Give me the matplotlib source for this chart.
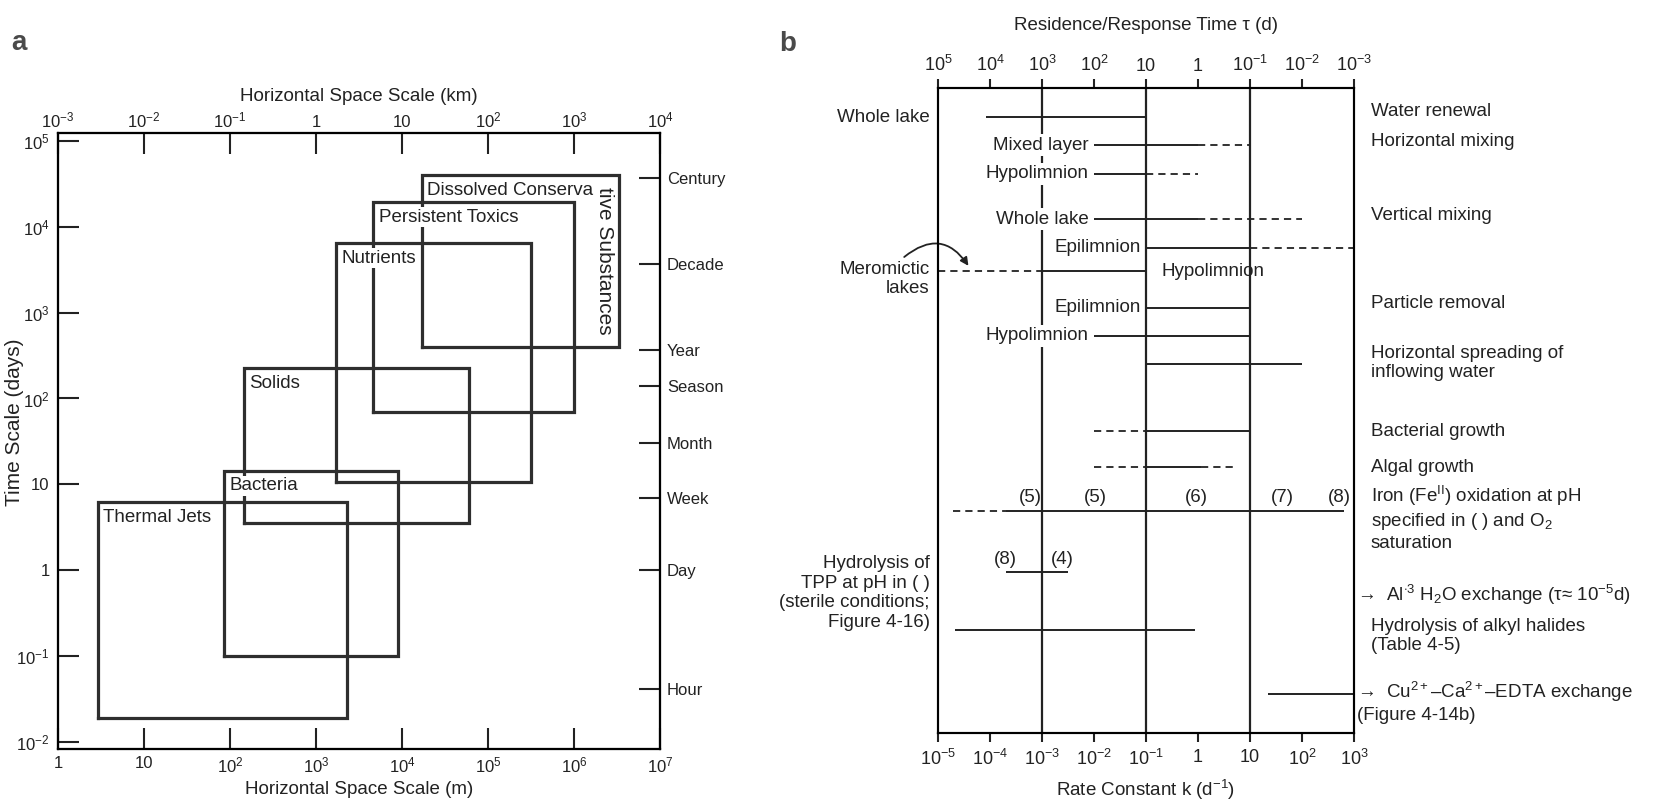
import matplotlib
matplotlib.use("Agg")
import matplotlib.pyplot as plt
import matplotlib.transforms as mtransforms
from matplotlib.ticker import FixedLocator, FixedFormatter, NullLocator

plt.rcParams.update({
    "font.family": "Liberation Sans",
    "mathtext.fontset": "custom",
    "mathtext.rm": "Liberation Sans",
    "mathtext.it": "Liberation Sans:italic",
    "mathtext.bf": "Liberation Sans:bold",
    "axes.linewidth": 1.5,
    "figure.facecolor": "white",
    "axes.facecolor": "white",
})

INK = "#222222"
BOX = "#2e2e2e"

# ---------------- panel a: space / time scales ----------------
box_names = ["Thermal Jets", "Bacteria", "Solids", "Nutrients",
             "Persistent Toxics", "Dissolved Conserva"]
box_tail = "tive Substances"
box_x_min = [2.9, 85, 145, 1700, 4600, 17000]          # m
box_x_max = [2300, 9100, 60000, 3.2e5, 1.0e6, 3.3e6]   # m
box_t_min = [0.019, 0.1, 3.6, 10.6, 69, 400]           # days
box_t_max = [6.3, 14.5, 224, 6500, 19500, 40000]       # days

space_m = [1, 10, 1e2, 1e3, 1e4, 1e5, 1e6, 1e7]
space_m_labels = ["1", "10", "10$^2$", "10$^3$", "10$^4$", "10$^5$",
                  "10$^6$", "10$^7$"]
space_km_labels = ["10$^{-3}$", "10$^{-2}$", "10$^{-1}$", "1", "10",
                   "10$^2$", "10$^3$", "10$^4$"]
time_days = [1e-2, 1e-1, 1, 10, 1e2, 1e3, 1e4, 1e5]
time_labels = ["10$^{-2}$", "10$^{-1}$", "1", "10", "10$^2$", "10$^3$",
               "10$^4$", "10$^5$"]
calendar_names = ["Hour", "Day", "Week", "Month", "Season", "Year",
                  "Decade", "Century"]
calendar_days = [1 / 24, 1, 7, 30.4, 140, 365, 3650, 36500]

# ---------------- panel b: rate constants (log10 k, d^-1) ----------------
k_ticks = [1e-5, 1e-4, 1e-3, 1e-2, 1e-1, 1, 10, 1e2, 1e3]
k_labels = ["10$^{-5}$", "10$^{-4}$", "10$^{-3}$", "10$^{-2}$", "10$^{-1}$",
            "1", "10", "10$^2$", "10$^3$"]
tau_labels = ["10$^5$", "10$^4$", "10$^3$", "10$^2$", "10", "1",
              "10$^{-1}$", "10$^{-2}$", "10$^{-3}$"]
guide_k = [1e-3, 1e-1, 10]

row_y = [2.9, 5.7, 8.6, 13.1, 16.0, 18.3, 22.0, 24.8, 27.6,
         34.3, 37.9, 42.3, 48.4, 54.2, 60.6]
row_solid = [[(-4.07, -1)], [(-2, 0)], [(-2, -1)], [(-2, 0)], [(-1, 1)],
             [(-3, -1)], [(-1, 1)], [(-2, 1)], [(-1, 2)],
             [(-1, 1)], [(-1, 0.05)], [(-3.7, 2.8)], [(-3.7, -2.5)],
             [(-4.68, -0.05)], [(1.34, 3)]]
row_dashed = [[], [(0, 1)], [(-1, 0)], [(0, 2)], [(1, 3)],
              [(-5, -3)], [], [], [],
              [(-2, -1)], [(-2, -1), (0.05, 0.75)], [(-4.71, -3.7)], [],
              [], []]

inner_rows = [1, 2, 3, 4, 6, 7]
inner_names = ["Mixed layer", "Hypolimnion", "Whole lake", "Epilimnion",
               "Epilimnion", "Hypolimnion"]

right_names = ["Water renewal", "Horizontal mixing", "Vertical mixing",
               "Particle removal", "Horizontal spreading of\ninflowing water",
               "Bacterial growth", "Algal growth",
               "Iron (Fe$^{\\rm II}$) oxidation at pH\nspecified in ( ) and O$_2$\nsaturation",
               "Hydrolysis of alkyl halides\n(Table 4-5)"]
right_y = [2.4, 5.4, 12.7, 21.6, 27.5, 34.3, 37.9, 43.0, 54.8]
arrow_names = ["\u2192  Al$^{\\cdot 3}$ H$_2$O exchange (\u03c4\u2248 10$^{-5}$d)",
               "\u2192  Cu$^{2+}$\u2013Ca$^{2+}$\u2013EDTA exchange\n(Figure 4-14b)"]
arrow_y = [50.7, 61.4]

left_names = ["Whole lake", "Meromictic\nlakes",
              "Hydrolysis of\nTPP at pH in ( )\n(sterile conditions;\nFigure 4-16)"]
left_y = [2.9, 19.1, 50.5]

iron_ph = ["(5)", "(5)", "(6)", "(7)", "(8)"]
iron_ph_logk = [-3.22, -1.98, -0.03, 1.63, 2.72]
iron_ph_y = 40.9
tpp_ph = ["(8)", "(4)"]
tpp_ph_logk = [-3.71, -2.6]
tpp_ph_y = 47.1

W, H = 1661, 801
fig = plt.figure(figsize=(W / 100, H / 100), dpi=100)

# ======================= panel a =======================
ax = fig.add_axes([58 / W, 1 - 749 / H, 602 / W, 616 / H])
ax.set_xscale("log")
ax.set_yscale("log")
ax.set_xlim(1, 1e7)
ax.set_ylim(10 ** -2.08, 10 ** 5.09)

label_box = dict(boxstyle="square,pad=0.08", fc="white", ec="none")
for name, x0, x1, t0, t1 in zip(box_names, box_x_min, box_x_max,
                                box_t_min, box_t_max):
    ax.plot([x0, x1, x1, x0, x0], [t0, t0, t1, t1, t0], color=BOX,
            lw=2.3, solid_joinstyle="miter", zorder=2)
    ax.annotate(name, (x0, t1), xytext=(4, -5), textcoords="offset points",
                ha="left", va="top", fontsize=13.5, color=INK, zorder=4,
                bbox=label_box)
ax.annotate(box_tail, (box_x_max[-1], box_t_max[-1]), xytext=(-10, -9),
            textcoords="offset points", rotation=270, ha="center", va="top",
            fontsize=15, color=INK, zorder=4, bbox=label_box)

ax.xaxis.set_major_locator(FixedLocator(space_m))
ax.xaxis.set_major_formatter(FixedFormatter(space_m_labels))
ax.yaxis.set_major_locator(FixedLocator(time_days))
ax.yaxis.set_major_formatter(FixedFormatter(time_labels))
ax.xaxis.set_minor_locator(NullLocator())
ax.yaxis.set_minor_locator(NullLocator())
ax.tick_params(which="major", direction="in", length=15, width=1.5,
               labelsize=12, colors=INK)
ax.tick_params(axis="x", pad=5)
ax.tick_params(axis="y", pad=6)
ax.set_xlabel("Horizontal Space Scale (m)", fontsize=13.5, color=INK,
              labelpad=4)
ax.set_ylabel("Time Scale (days)", fontsize=15, color=INK)
ax.yaxis.set_label_coords(-0.056, 0.53)

axt = ax.twiny()
axt.set_xscale("log")
axt.set_xlim(ax.get_xlim())
axt.xaxis.set_major_locator(FixedLocator(space_m))
axt.xaxis.set_major_formatter(FixedFormatter(space_km_labels))
axt.xaxis.set_minor_locator(NullLocator())
axt.tick_params(which="major", direction="in", length=15, width=1.5,
                labelsize=12, colors=INK, pad=2)
axt.set_xlabel("Horizontal Space Scale (km)", fontsize=13.5, color=INK,
               labelpad=7)

axr = ax.twinx()
axr.set_yscale("log")
axr.set_ylim(ax.get_ylim())
axr.yaxis.set_major_locator(FixedLocator(calendar_days))
axr.yaxis.set_major_formatter(FixedFormatter(calendar_names))
axr.yaxis.set_minor_locator(NullLocator())
axr.tick_params(which="major", direction="in", length=15, width=1.5,
                labelsize=12, colors=INK, pad=5)

# ======================= panel b =======================
axb = fig.add_axes([938 / W, 1 - 733 / H, 416 / W, 645 / H])
axb.set_xscale("log")
axb.set_xlim(1e-5, 1e3)
axb.set_ylim(64.5, 0)

for g in guide_k:
    axb.axvline(g, color=INK, lw=1.6, zorder=1)

for y, segs in zip(row_y, row_solid):
    for a, b in segs:
        axb.plot([10 ** a, 10 ** b], [y, y], color=INK, lw=1.4,
                 solid_capstyle="butt", zorder=2)
for y, segs in zip(row_y, row_dashed):
    for a, b in segs:
        axb.plot([10 ** a, 10 ** b], [y, y], color=INK, lw=1.3,
                 dashes=(4, 2.8), zorder=2)

inner_box = dict(boxstyle="square,pad=0.15", fc="white", ec="none")
for r, name in zip(inner_rows, inner_names):
    start = min(a for a, _ in row_solid[r])
    axb.annotate(name, (10 ** start, row_y[r]), xytext=(-4, 0),
                 textcoords="offset points", ha="right", va="center",
                 fontsize=13.5, color=INK, zorder=4, bbox=inner_box)

# hypolimnion of meromictic lakes, written past the end of its line
axb.annotate("Hypolimnion", (10 ** row_solid[5][0][1], row_y[5]),
             xytext=(11, 0), textcoords="offset points", ha="left",
             va="center", fontsize=13.5, color=INK, zorder=4)

# curved pointer from "Meromictic lakes" onto its dashed line
axb.annotate("", xy=(10 ** -4.4, 17.9), xytext=(10 ** -5.65, 16.9),
             annotation_clip=False,
             arrowprops=dict(arrowstyle="-|>", color=INK, lw=1.3,
                             mutation_scale=12, clip_on=False,
                             shrinkA=0, shrinkB=1,
                             connectionstyle="arc3,rad=-0.55"))

for txt, lk in zip(iron_ph, iron_ph_logk):
    axb.text(10 ** lk, iron_ph_y, txt, ha="center", va="center",
             fontsize=13.5, color=INK)
for txt, lk in zip(tpp_ph, tpp_ph_logk):
    axb.text(10 ** lk, tpp_ph_y, txt, ha="center", va="center",
             fontsize=13.5, color=INK)

side = mtransforms.blended_transform_factory(axb.transAxes, axb.transData)
for txt, y in zip(right_names, right_y):
    axb.text(1.04, y, txt, transform=side, ha="left", va="center",
             fontsize=13.5, color=INK, linespacing=1.2)
for txt, y in zip(arrow_names, arrow_y):
    axb.text(1.008, y, txt, transform=side, ha="left", va="center",
             fontsize=13.5, color=INK, linespacing=1.2)
for txt, y in zip(left_names, left_y):
    axb.text(-0.02, y, txt, transform=side, ha="right", va="center",
             multialignment="right", fontsize=13.5, color=INK,
             linespacing=1.2)

axb.xaxis.set_major_locator(FixedLocator(k_ticks))
axb.xaxis.set_major_formatter(FixedFormatter(k_labels))
axb.xaxis.set_minor_locator(NullLocator())
axb.tick_params(axis="x", which="major", direction="out", length=6.5,
                width=1.5, labelsize=13, colors=INK, pad=5)
axb.tick_params(axis="y", left=False, labelleft=False)
axb.set_xlabel("Rate Constant k (d$^{-1}$)", fontsize=13.5, color=INK,
               labelpad=6)

axbt = axb.twiny()
axbt.set_xscale("log")
axbt.set_xlim(axb.get_xlim())
axbt.xaxis.set_major_locator(FixedLocator(k_ticks))
axbt.xaxis.set_major_formatter(FixedFormatter(tau_labels))
axbt.xaxis.set_minor_locator(NullLocator())
axbt.tick_params(axis="x", which="major", direction="out", length=6.5,
                 width=1.5, labelsize=13, colors=INK, pad=3)
axbt.set_xlabel("Residence/Response Time \u03c4 (d)", fontsize=13.5,
                color=INK, labelpad=18)

# panel letters
fig.text(0.0114, 0.946, "a", fontsize=20, fontweight="bold", color="#4a4a4a",
         ha="center", va="center")
fig.text(0.4744, 0.945, "b", fontsize=20, fontweight="bold", color="#4a4a4a",
         ha="center", va="center")

fig.savefig("out.png", dpi=100)
